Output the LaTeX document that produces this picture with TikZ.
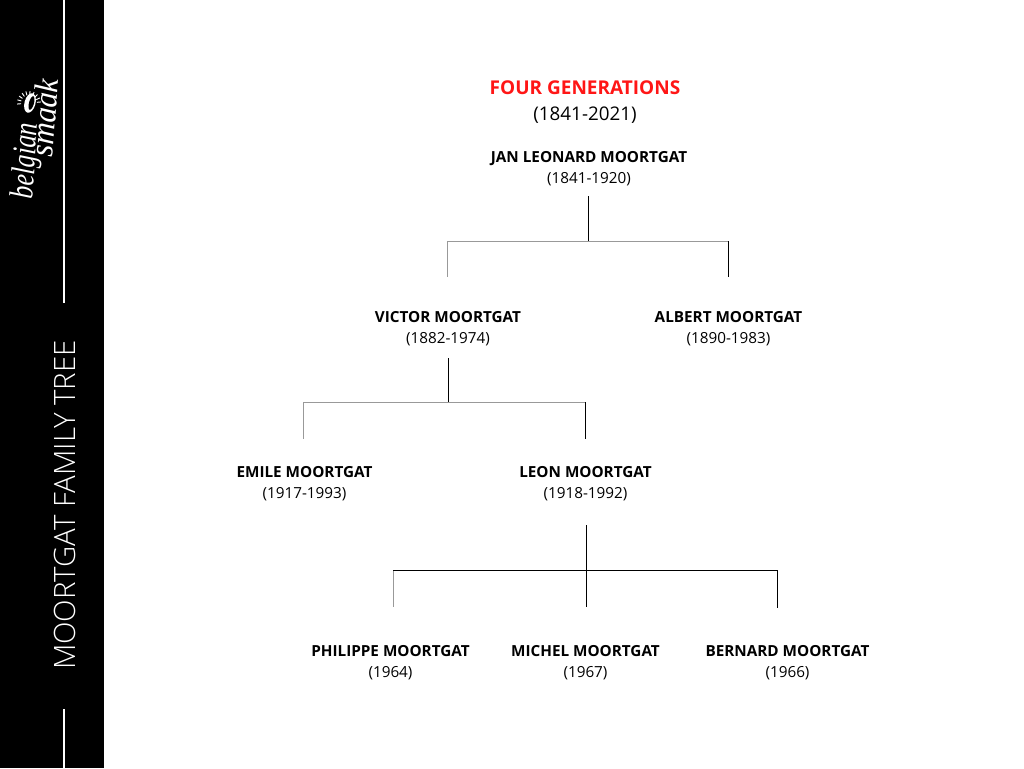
\documentclass[tikz,border=0pt]{standalone}
\usepackage{fontspec}
\setmainfont{Open Sans}
\newfontfamily\logofont{Liberation Serif}
\newfontfamily\lightfont{Open Sans Light}
\tikzset{
  px/.style={x=0.75pt,y=-0.75pt},
  person/.style={align=center,inner sep=0pt,text=black,font=\fontsize{11.45pt}{15.7pt}\selectfont},
  conn/.style={line width=0.6pt,draw=black},
  connlight/.style={line width=0.75pt,draw=black!40},
  sideline/.style={line width=1.5pt,draw=white},
  logotext/.style={rotate=86,text=white,inner sep=0pt,font=\logofont\itshape\fontsize{25pt}{26pt}\selectfont},
}
\newcommand{\who}[2]{\textbf{#1}\\#2}
\begin{document}
\begin{tikzpicture}[px]
\useasboundingbox (0,0) rectangle (1024,768);
\fill[white] (0,0) rectangle (1024,768);
\fill[black] (0,0) rectangle (104,768);
% sidebar
\coordinate (s1) at (63.5,0);
\coordinate (s2) at (63.5,303);
\coordinate (s3) at (63.5,709);
\coordinate (s4) at (63.5,768);
\draw[sideline] (s1) -- (s2);
\draw[sideline] (s3) -- (s4);
\node[rotate=90,text=white,inner sep=0pt,font=\lightfont\fontsize{22.05pt}{24pt}\selectfont] (side) at (65,505) {MOORTGAT FAMILY TREE};
\node[logotext] (logoa) at (27,161) {\scalebox{0.76}[1]{belgian}};
\node[logotext] (logob) at (44,118) {\scalebox{0.92}[1]{smaak}};
\fill[white,rotate around={75:(30,103)}] (30,103) ellipse (10 and 5.5);
\fill[black,rotate around={75:(31.5,103)}] (31.5,103) ellipse (7 and 2.5);
\foreach \a in {100,120,...,280}
  \draw[white,line width=0.7pt] (29,103)++(\a+75:8) -- ++(\a+75:4);
% titles
\node[inner sep=0pt,text={rgb,255:red,255;green,22;blue,22},font=\bfseries\fontsize{14.25pt}{16pt}\selectfont] (title) at (585,88) {FOUR GENERATIONS};
\node[inner sep=0pt,font=\fontsize{14.1pt}{16pt}\selectfont] (years) at (585,115) {(1841-2021)};
% people
\node[person] (jan) at (589,168.5) {\who{JAN LEONARD MOORTGAT}{(1841-1920)}};
\node[person] (victor) at (448,328.5) {\who{VICTOR MOORTGAT}{(1882-1974)}};
\node[person] (albert) at (728.5,328.5) {\who{ALBERT MOORTGAT}{(1890-1983)}};
\node[person] (emile) at (304.5,483.5) {\who{EMILE MOORTGAT}{(1917-1993)}};
\node[person] (leon) at (585.5,483.5) {\who{LEON MOORTGAT}{(1918-1992)}};
\node[person] (philippe) at (390.5,662.5) {\who{PHILIPPE MOORTGAT}{(1964)}};
\node[person] (michel) at (585.5,662.5) {\who{MICHEL MOORTGAT}{(1967)}};
\node[person] (bernard) at (787.5,662.5) {\who{BERNARD MOORTGAT}{(1966)}};
% connectors, generation 1
\coordinate (a0) at (588.5,196);
\coordinate (a1) at (588.5,241);
\coordinate (al) at (447,241);
\coordinate (ar) at (728.5,241);
\coordinate (alb) at (447,277);
\coordinate (arb) at (728.5,277);
\draw[connlight] (al) -- (ar);
\draw[conn] (a0) -- (a1);
\draw[connlight] (al) -- (alb);
\draw[conn] (ar) -- (arb);
% generation 2
\coordinate (b0) at (448.5,358);
\coordinate (b1) at (448.5,402);
\coordinate (bl) at (303.5,402);
\coordinate (br) at (585.5,402);
\coordinate (blb) at (303.5,439);
\coordinate (brb) at (585.5,439);
\draw[connlight] (bl) -- (br);
\draw[conn] (b0) -- (b1);
\draw[connlight] (bl) -- (blb);
\draw[conn] (br) -- (brb);
% generation 3
\coordinate (c0) at (586.5,525);
\coordinate (cm) at (586.5,570.5);
\coordinate (cmb) at (586.5,607);
\coordinate (cl) at (393,570.5);
\coordinate (cr) at (777.5,570.5);
\coordinate (clb) at (393,607);
\coordinate (crb) at (777.5,608);
\draw[conn] (cl) -- (cr);
\draw[conn] (c0) -- (cmb);
\draw[connlight] (cl) -- (clb);
\draw[conn] (cr) -- (crb);
\end{tikzpicture}
\end{document}
